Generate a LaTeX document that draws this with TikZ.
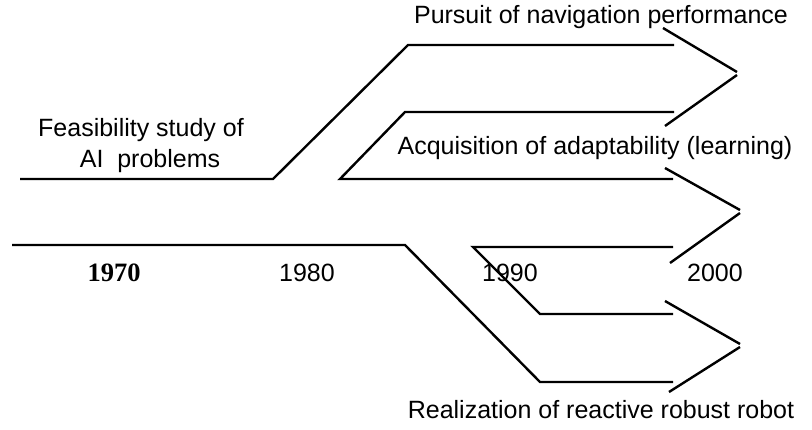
\documentclass[tikz,border=0pt]{standalone}
\usepackage{fontspec}
\setmainfont{Liberation Sans}
\newfontfamily\yearserif{Liberation Serif}
\begin{document}
\begin{tikzpicture}[x=1pt,y=-1pt,
  band/.style={line width=2.4pt,line join=miter},
  head/.style={line width=2.4pt},
  lbl/.style={font=\fontsize{25}{28}\selectfont,inner sep=0pt,anchor=center}]
\useasboundingbox (0,0) rectangle (812,429);
% main stream splitting into three branches
\draw[band] (20,179) -- (273,179) -- (408,45) -- (674,45);
\draw[band] (674,112) -- (405,112) -- (340,179) -- (673,179);
\draw[band] (673,247) -- (473,247) -- (540,314) -- (673,314);
\draw[band] (12,245) -- (405,245) -- (540,382) -- (673,382);
% open arrow heads
\draw[head] (663,28) -- (737,72);
\draw[head] (737,75) -- (665,126);
\draw[head] (665,168) -- (740,210);
\draw[head] (740,213) -- (670,263);
\draw[head] (665,301) -- (740,344);
\draw[head] (740,347) -- (669,392);
% labels
\node[lbl] (feas) at (141,130) {Feasibility study of};
\node[lbl] (ai) at (150,161) {AI\ \ problems};
\node[lbl] (nav) at (601,17) {Pursuit of navigation performance};
\node[lbl] (adapt) at (595,148) {Acquisition of adaptability (learning)};
\node[lbl] (react) at (601,410) {Realization of reactive robust robot};
\node[lbl,font=\fontsize{26.5}{28}\yearserif\bfseries] (y70) at (114,273) {1970};
\node[lbl] (y80) at (307,273) {1980};
\node[lbl] (y90) at (510,273) {1990};
\node[lbl] (y00) at (715,273) {2000};
\end{tikzpicture}
\end{document}
